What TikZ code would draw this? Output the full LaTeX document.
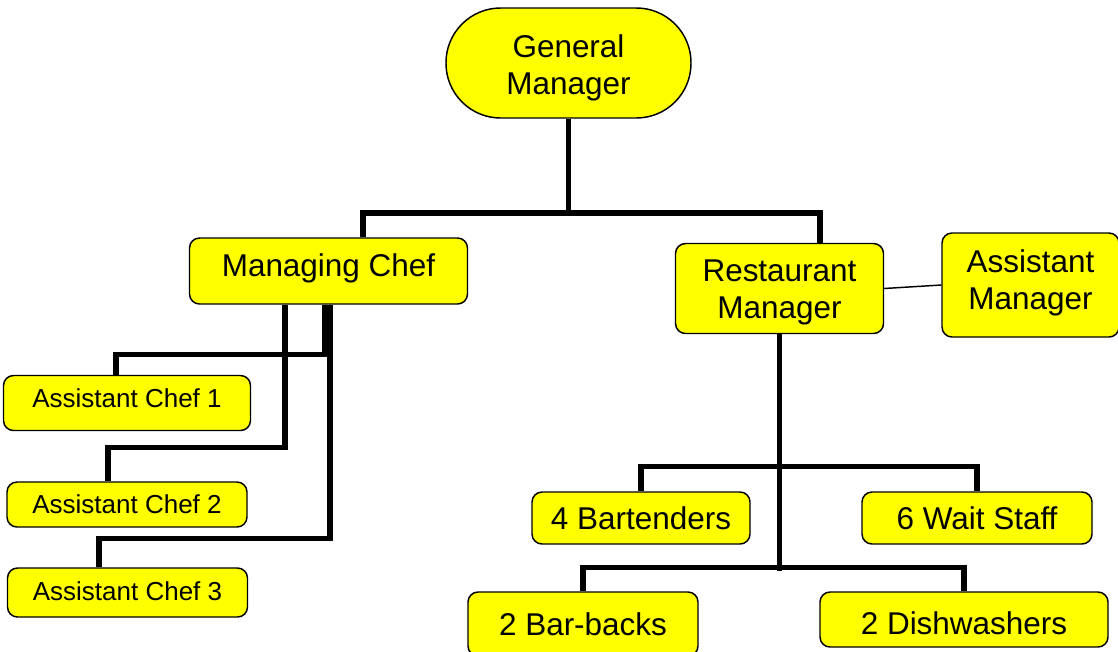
\documentclass[tikz,border=0pt]{standalone}
\usepackage{fontspec}
\setmainfont{Liberation Sans}
\definecolor{boxyellow}{HTML}{FFFF00}
\newcommand{\shiftedtext}[3]{\raisebox{#1}[\height][\depth]{\parbox{#2}{\centering #3}}}
\newcommand{\shiftline}[2]{\raisebox{#1}[\height][\depth]{#2}}
\tikzset{
  orgbox/.style={draw=black, fill=boxyellow, line width=1.1pt, rounded corners=7.5pt,
    align=center, inner sep=0pt, font=\fontsize{23.6}{27.75}\selectfont},
  smallbox/.style={orgbox, font=\fontsize{19.5}{23}\selectfont},
  conn/.style={line width=3.9pt, draw=black},
  thinconn/.style={line width=1.1pt, draw=black}
}
\begin{document}
\begin{tikzpicture}[x=0.75pt, y=-0.75pt]
\useasboundingbox (0,0) rectangle (1118,651);
% nodes
\node[orgbox, rounded corners=41pt, minimum width=183.75pt, minimum height=82.5pt] (gm) at (568.5,63) {\shiftedtext{-3.4pt}{160pt}{General\\Manager}};
\node[orgbox, minimum width=208.5pt, minimum height=49.5pt] (mc) at (328.5,271) {\shiftline{2.25pt}{Managing Chef}};
\node[orgbox, minimum width=156pt, minimum height=67.5pt] (rm) at (779.5,288.5) {\shiftedtext{-2.6pt}{140pt}{Restaurant\\Manager}};
\node[orgbox, minimum width=132.75pt, minimum height=78pt] (am) at (1030.5,285) {\shiftedtext{1.5pt}{120pt}{Assistant\\Manager}};
\node[smallbox, minimum width=185.25pt, minimum height=41.25pt] (ac1) at (127,403) {\shiftline{3.75pt}{Assistant Chef 1}};
\node[smallbox, minimum width=180pt, minimum height=33.75pt] (ac2) at (127,504.5) {Assistant Chef 2};
\node[smallbox, minimum width=180pt, minimum height=36.75pt] (ac3) at (127.5,592.5) {\shiftline{0.75pt}{Assistant Chef 3}};
\node[orgbox, minimum width=163.5pt, minimum height=39pt] (bt) at (641,518) {4 Bartenders};
\node[orgbox, minimum width=172.5pt, minimum height=39pt] (ws) at (977,518) {6 Wait Staff};
\node[orgbox, minimum width=172.5pt, minimum height=48pt] (bb) at (583,624) {2 Bar-backs};
\node[orgbox, minimum width=216pt, minimum height=41.25pt] (dw) at (964,619.5) {\shiftline{-3pt}{2 Dishwashers}};
% connectors
\coordinate (j1) at (568.5,213);
\draw[conn] (gm.south) -- (j1);
\draw[conn] ([xshift=25.9pt]mc.north) |- (j1) -| ([xshift=30.4pt]rm.north);
\draw[conn] ([xshift=-2.6pt]mc.south) -- ++(0,50) -| ([xshift=-8.25pt]ac1.north);
\draw[conn] ([xshift=-32.6pt]mc.south) -- ++(0,143) -| ([xshift=-14.25pt]ac2.north);
\draw[conn] ([xshift=1.1pt]mc.south) -- ++(0,234) -| ([xshift=-21.4pt]ac3.north);
\draw[conn] (rm.south) -- ++(0,237);
\draw[conn] (bt.north) -- ++(0,-25) -| (ws.north);
\draw[conn] (bb.north) -- ++(0,-24) -| (dw.north);
\draw[thinconn] (rm.east) -- (am.west);
\end{tikzpicture}
\end{document}
